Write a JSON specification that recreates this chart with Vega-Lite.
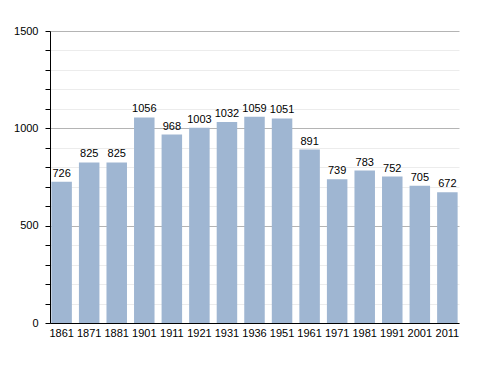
{
  "$schema": "https://vega.github.io/schema/vega-lite/v6.json",
  "width": 409,
  "height": 292,
  "autosize": {"type": "none"},
  "padding": {"left": 50, "top": 31, "right": 29, "bottom": 50},
  "background": "white",
  "config": {
    "view": {"stroke": null},
    "font": "Liberation Sans"
  },
  "data": {
    "values": [
      {"year": "1861", "pop": 726},
      {"year": "1871", "pop": 825},
      {"year": "1881", "pop": 825},
      {"year": "1901", "pop": 1056},
      {"year": "1911", "pop": 968},
      {"year": "1921", "pop": 1003},
      {"year": "1931", "pop": 1032},
      {"year": "1936", "pop": 1059},
      {"year": "1951", "pop": 1051},
      {"year": "1961", "pop": 891},
      {"year": "1971", "pop": 739},
      {"year": "1981", "pop": 783},
      {"year": "1991", "pop": 752},
      {"year": "2001", "pop": 705},
      {"year": "2011", "pop": 672}
    ]
  },
  "encoding": {
    "x": {
      "field": "year",
      "type": "ordinal",
      "sort": null,
      "scale": {"paddingInner": 0.256, "paddingOuter": 0.05},
      "axis": {
        "title": null,
        "labelAngle": 0,
        "ticks": false,
        "labelPadding": 4,
        "labelFontSize": 11,
        "labelColor": "#000",
        "domainColor": "#000",
        "domainWidth": 1
      }
    },
    "y": {
      "field": "pop",
      "type": "quantitative",
      "scale": {"domain": [0, 1500], "nice": false},
      "axis": {
        "title": null,
        "values": [0, 100, 200, 300, 400, 500, 600, 700, 800, 900, 1000, 1100, 1200, 1300, 1400, 1500],
        "labelExpr": "datum.value % 500 === 0 ? datum.value : ''",
        "labelFontSize": 11,
        "labelColor": "#000",
        "labelPadding": 7,
        "domainColor": "#000",
        "tickColor": "#000",
        "tickSize": 5,
        "grid": true,
        "gridColor": {"condition": {"test": "datum.value % 500 === 0", "value": "#b4b4b4"}, "value": "#ececec"},
        "gridWidth": 1
      }
    }
  },
  "layer": [
    {
      "mark": {"type": "bar", "color": "#9fb6d2"}
    },
    {
      "mark": {"type": "text", "baseline": "bottom", "dy": -3, "fontSize": 11, "color": "#000"},
      "encoding": {"text": {"field": "pop", "type": "quantitative"}}
    }
  ]
}
